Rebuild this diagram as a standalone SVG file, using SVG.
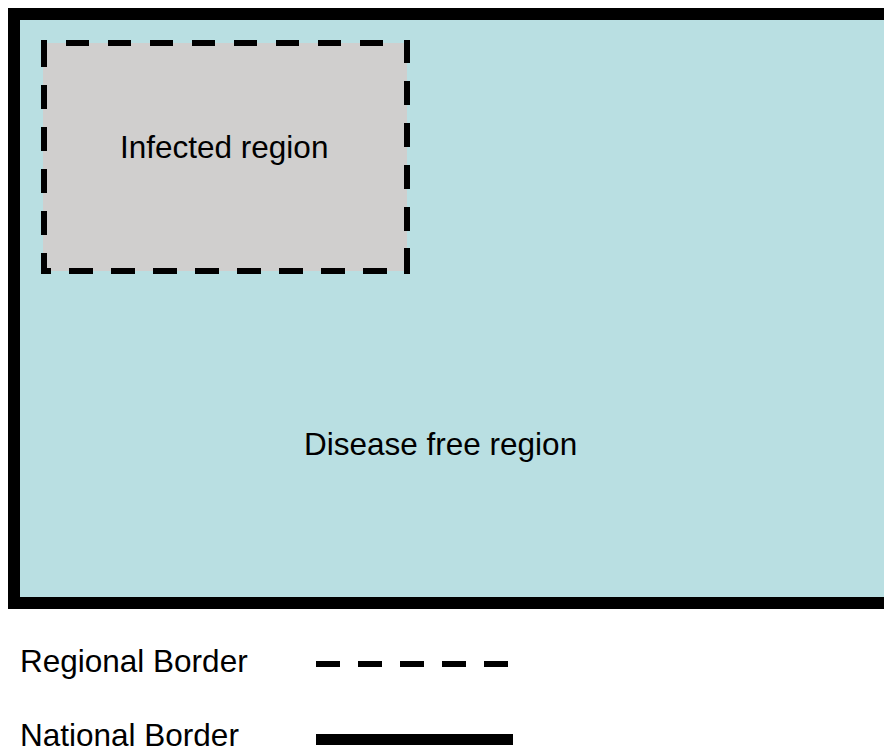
<svg xmlns="http://www.w3.org/2000/svg" width="884" height="749" viewBox="0 0 884 749">
<style>
.t{font-family:"Liberation Sans",Arial,sans-serif;font-size:31.5px;fill:#000}
.dash{fill:none;stroke:#000;stroke-width:6}
</style>
<rect width="884" height="749" fill="#fff"/>
<g id="disease-free-region">
<rect x="14" y="14" width="900" height="589" fill="#B9DFE2" stroke="#000" stroke-width="12"/>
<text class="t" x="304" y="455">Disease free region</text>
</g>
<g id="infected-region">
<rect x="43" y="43" width="364" height="228" fill="#D0CFCE"/>
<path class="dash" d="M44 40V67M44 85V109M44 127V151M44 169V193M44 211V235M44 253V274
M66 43H89M108 43H131M150 43H173M192 43H215M234 43H257M276 43H299M318 43H341M360 43H383
M407 40V63M407 81V105M407 123V147M407 165V189M407 207V231M407 248V274
M41 271H51M69 271H93M111 271H135M153 271H177M195 271H219M237 271H261M279 271H303M321 271H345M363 271H387"/>
<text class="t" x="120" y="158">Infected region</text>
</g>
<g id="legend">
<text class="t" x="20" y="672">Regional Border</text>
<path class="dash" d="M316 664H340M358 664H382M400 664H424M442 664H466M484 664H508"/>
<text class="t" x="20" y="746">National Border</text>
<rect x="316" y="734" width="197" height="11" fill="#000"/>
</g>
</svg>
